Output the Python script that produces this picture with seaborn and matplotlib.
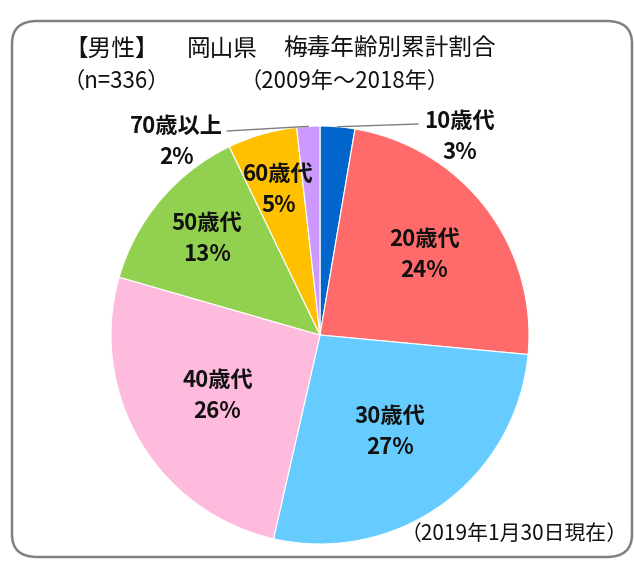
import numpy as np
import seaborn as sns
import matplotlib.pyplot as plt
from matplotlib.patches import FancyBboxPatch

# ---- data ----
age_groups = ["10歳代", "20歳代", "30歳代", "40歳代", "50歳代", "60歳代", "70歳以上"]
counts = [9, 80, 91, 87, 45, 18, 6]   # n=336
colors = ["#0066CC", "#FF6B6B", "#66CCFF", "#FFBBDD", "#92D050", "#FFC000", "#CC99FF"]

title_parts = ["【男性】", "岡山県", "梅毒年齢別累計割合"]
n_text = "（n=336）"
period_text = "（2009年～2018年）"
asof_text = "（2019年1月30日現在）"

sns.set_theme(style="white")
plt.rcParams['font.family'] = ['Noto Sans CJK JP', 'DejaVu Sans']

W, H = 634, 561
CX, CY, R = 320, 335, 209   # pie centre / radius in pixels


def px(x, y):
    # pixel (from top-left) -> data coords
    return (x - CX) / R, (CY - y) / R


fig = plt.figure(figsize=(W / 100, H / 100), dpi=100)
ax = fig.add_axes([0, 0, 1, 1])

wedges, _ = ax.pie(counts, colors=colors, startangle=90, counterclock=False,
                   radius=1, center=(0, 0),
                   wedgeprops=dict(edgecolor="white", linewidth=0.8))
ax.set_xlim(-CX / R, (W - CX) / R)
ax.set_ylim((CY - H) / R, CY / R)
ax.set_aspect("equal", adjustable="box")
ax.axis("off")

total = sum(counts)
pcts = [round(c / total * 100) for c in counts]

# inside labels: distance from centre (fraction of radius)
label_r = [None, 0.63, 0.57, 0.57, 0.71, 0.72, None]
for i, w in enumerate(wedges):
    mid = np.deg2rad((w.theta1 + w.theta2) / 2)
    txt = f"{age_groups[i]}\n{pcts[i]}%"
    if label_r[i] is not None:
        r = label_r[i]
        ax.text(r * np.cos(mid), r * np.sin(mid), txt, ha="center", va="center",
                fontsize=16, fontweight="bold", linespacing=1.45, color="#111111")

# outside labels with leader lines
outside = {0: ((460, 137), (418, 124)), 6: ((176, 142), (227, 131))}
for i, (lab_xy, end_xy) in outside.items():
    w = wedges[i]
    mid = np.deg2rad((w.theta1 + w.theta2) / 2)
    x0, y0 = np.cos(mid), np.sin(mid)
    x1, y1 = px(*end_xy)
    ax.plot([x0, x1], [y0, y1], color="#7F7F7F", lw=1, clip_on=False)
    lx, ly = px(*lab_xy)
    ax.text(lx, ly, f"{age_groups[i]}\n{pcts[i]}%", ha="center", va="center",
            fontsize=16, fontweight="bold", linespacing=1.45, color="#111111")

# titles
for s, x in zip(title_parts, [64, 187, 283]):
    ax.text(*px(x, 49), s, ha="left", va="center", fontsize=17, color="#111111")
ax.text(*px(63, 81), n_text, ha="left", va="center", fontsize=16, color="#111111")
ax.text(*px(345, 81), period_text, ha="center", va="center", fontsize=16, color="#111111")
ax.text(*px(628, 534), asof_text, ha="right", va="center", fontsize=15, color="#111111")

# rounded frame
frame = FancyBboxPatch((12 / W, 1 - 557 / H), (632 - 12) / W, (557 - 21) / H,
                       boxstyle="round,pad=0,rounding_size=0.04",
                       transform=fig.transFigure, facecolor="none",
                       edgecolor="#808080", lw=1.8, zorder=0)
fig.patches.append(frame)

fig.savefig("out.png", dpi=100)
